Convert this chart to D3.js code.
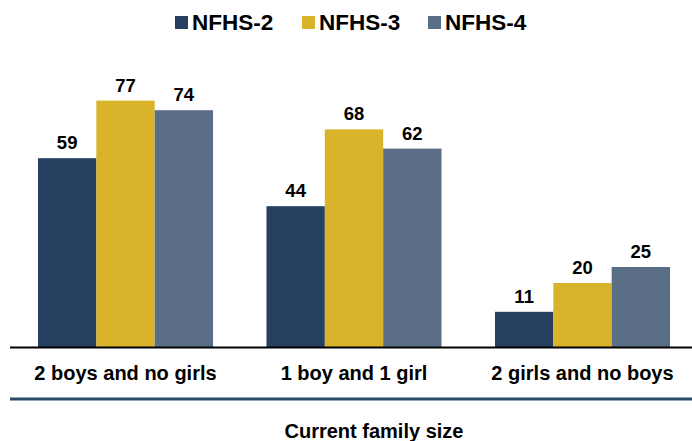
<!DOCTYPE html>
<html>
<head>
<meta charset="utf-8">
<script src="https://cdn.jsdelivr.net/npm/d3@7"></script>
<style>
  body { margin: 0; background: #fff; }
  svg { display: block; font-family: "Liberation Sans", Arial, sans-serif; }
</style>
</head>
<body>
<div id="chart"></div>
<script>
// data
const categories = ["2 boys and no girls", "1 boy and 1 girl", "2 girls and no boys"];
const seriesNames = ["NFHS-2", "NFHS-3", "NFHS-4"];
const nfhs2 = [59, 44, 11];
const nfhs3 = [77, 68, 20];
const nfhs4 = [74, 62, 25];
const axisTitle = "Current family size";

const width = 692;
const height = 441;
const baseline = 347;

const colors = {
    "NFHS-2": "#243f60",
    "NFHS-3": "#d9b42a",
    "NFHS-4": "#5b6e88"
};

const values = { "NFHS-2": nfhs2, "NFHS-3": nfhs3, "NFHS-4": nfhs4 };

const rows = categories.map((c, i) => ({
    category: c,
    items: seriesNames.map(s => ({ series: s, value: values[s][i] }))
}));

const svg = d3.select("#chart")
    .append("svg")
    .attr("width", width)
    .attr("height", height);

// scales
const x0 = d3.scaleBand()
    .domain(categories)
    .range([11.25, 696.75])
    .paddingInner(0.234)
    .paddingOuter(0.117);

const x1 = d3.scaleBand()
    .domain(seriesNames)
    .range([0, x0.bandwidth()]);

const y = d3.scaleLinear()
    .domain([0, 100])
    .range([baseline, baseline - 320]);

// bars
const groups = svg.append("g")
    .selectAll("g")
    .data(rows)
    .join("g")
    .attr("transform", d => `translate(${x0(d.category)},0)`);

groups.selectAll("rect")
    .data(d => d.items)
    .join("rect")
    .attr("x", d => x1(d.series))
    .attr("y", d => y(d.value))
    .attr("width", x1.bandwidth())
    .attr("height", d => y(0) - y(d.value))
    .attr("fill", d => colors[d.series]);

// value labels
groups.selectAll("text")
    .data(d => d.items)
    .join("text")
    .attr("x", d => x1(d.series) + x1.bandwidth() / 2)
    .attr("y", d => y(d.value) - 9)
    .attr("text-anchor", "middle")
    .attr("font-size", "18.5px")
    .attr("font-weight", "bold")
    .attr("fill", "#000")
    .text(d => d.value);

// baseline
svg.append("line")
    .attr("x1", 10).attr("x2", width)
    .attr("y1", baseline + 0.5).attr("y2", baseline + 0.5)
    .attr("stroke", "#000")
    .attr("stroke-width", 2);

// category labels
svg.append("g")
    .selectAll("text")
    .data(categories)
    .join("text")
    .attr("x", d => x0(d) + x0.bandwidth() / 2)
    .attr("y", 380)
    .attr("text-anchor", "middle")
    .attr("font-size", "20px")
    .attr("font-weight", "bold")
    .attr("fill", "#000")
    .text(d => d);

// lower rule
svg.append("line")
    .attr("x1", 10).attr("x2", width)
    .attr("y1", 399).attr("y2", 399)
    .attr("stroke", "#2c4a6b")
    .attr("stroke-width", 3);

// axis title
svg.append("text")
    .attr("x", 374)
    .attr("y", 438)
    .attr("text-anchor", "middle")
    .attr("font-size", "20px")
    .attr("font-weight", "bold")
    .attr("fill", "#000")
    .text(axisTitle);

// legend
const legendX = [175, 302, 428];
const legend = svg.append("g");
seriesNames.forEach((s, i) => {
    legend.append("rect")
        .attr("x", legendX[i])
        .attr("y", 16)
        .attr("width", 13)
        .attr("height", 13)
        .attr("fill", colors[s]);
    legend.append("text")
        .attr("x", legendX[i] + 17)
        .attr("y", 30)
        .attr("font-size", "22.5px")
        .attr("font-weight", "bold")
        .attr("fill", "#000")
        .text(s);
});
</script>
</body>
</html>
